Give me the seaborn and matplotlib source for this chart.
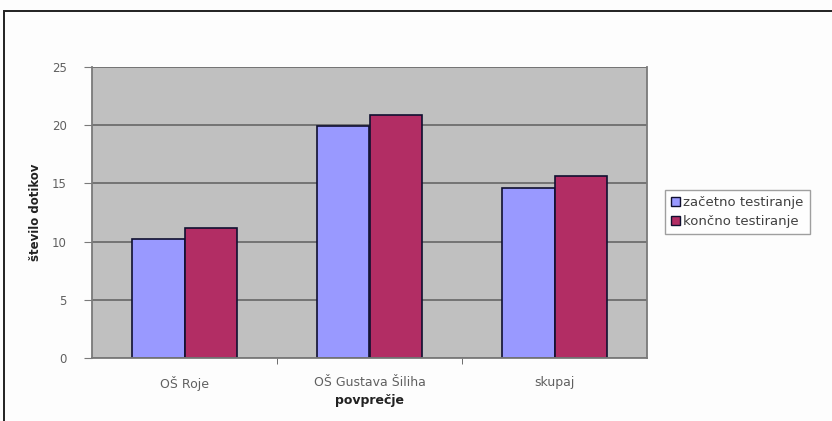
import matplotlib
matplotlib.use("Agg")
import matplotlib.pyplot as plt
from matplotlib.patches import Rectangle, Patch
import seaborn as sns
import pandas as pd

# Average touch counts per school, initial vs. final test
categories = ["OŠ Roje", "OŠ Gustava Šiliha", "skupaj"]
series_names = ["začetno testiranje", "končno testiranje"]
zacetno = [10.2, 19.9, 14.6]
koncno = [11.2, 20.9, 15.6]
y_ticks = [0, 5, 10, 15, 20, 25]

colors = ["#9999FF", "#B22D64"]

df = pd.DataFrame({
    "kategorija": categories * 2,
    "serija": [series_names[0]] * 3 + [series_names[1]] * 3,
    "vrednost": zacetno + koncno,
})

sns.set_style("white")
plt.rcParams["font.family"] = ["DejaVu Sans"]

fig = plt.figure(figsize=(8.32, 4.21), dpi=100)
fig.patch.set_facecolor("#FDFDFD")
ax = fig.add_axes([92 / 832, 63 / 421, 555 / 832, 291 / 421])
ax.set_facecolor("#C0C0C0")

sns.barplot(data=df, x="kategorija", y="vrednost", hue="serija",
            palette=colors, width=0.57, edgecolor="#101030", linewidth=1.2,
            ax=ax, legend=False, saturation=1)

ax.set_ylim(0, 25)
ax.set_xlim(-0.5, 2.5)
ax.set_yticks(y_ticks)
ax.set_yticklabels([str(t) for t in y_ticks])
ax.grid(axis="y", color="#6E6E6E", linewidth=1.3)
ax.grid(axis="x", visible=False)
ax.set_axisbelow(True)

ax.spines["top"].set_visible(False)
for s in ["left", "bottom", "right"]:
    ax.spines[s].set_color("#7A7A7A")
    ax.spines[s].set_linewidth(1.3)

# category-boundary tick marks on the x axis
ax.set_xticks([0, 1, 2])
ax.set_xticks([0.5, 1.5], minor=True)
ax.tick_params(axis="x", which="major", length=0, pad=13, labelsize=9,
               labelcolor="#606060")
ax.tick_params(axis="x", which="minor", length=4, color="#555555",
               direction="out", bottom=True)
ax.tick_params(axis="y", length=6, color="#7A7A7A", direction="out",
               left=True, labelsize=8.5, labelcolor="#606060", pad=12)

ax.set_xlabel("povprečje", fontsize=9, fontweight="bold", labelpad=2,
              color="#222222")
ax.set_ylabel("število dotikov", fontsize=8.5, fontweight="bold", labelpad=7,
              color="#222222")

handles = [Patch(facecolor=c, edgecolor="#101030", linewidth=1.0)
           for c in colors]
leg = fig.legend(handles, series_names, loc="upper left",
                 bbox_to_anchor=(665 / 832, 1 - 190 / 421),
                 fontsize=9.5, frameon=True, fancybox=False,
                 handlelength=0.7, handleheight=0.7, handletextpad=0.25,
                 borderpad=0.45, labelspacing=0.45, borderaxespad=0)
for t in leg.get_texts():
    t.set_color("#404040")
leg.get_frame().set_edgecolor("#888888")
leg.get_frame().set_linewidth(1.0)
leg.get_frame().set_facecolor("#FFFFFF")

# outer frame around the chart
fig.patches.append(Rectangle((4 / 832, -0.1), 1.0, 1 - 11 / 421 + 0.1,
                             transform=fig.transFigure, fill=False,
                             edgecolor="#222222", linewidth=1.4))

fig.savefig("out.png", dpi=100)
